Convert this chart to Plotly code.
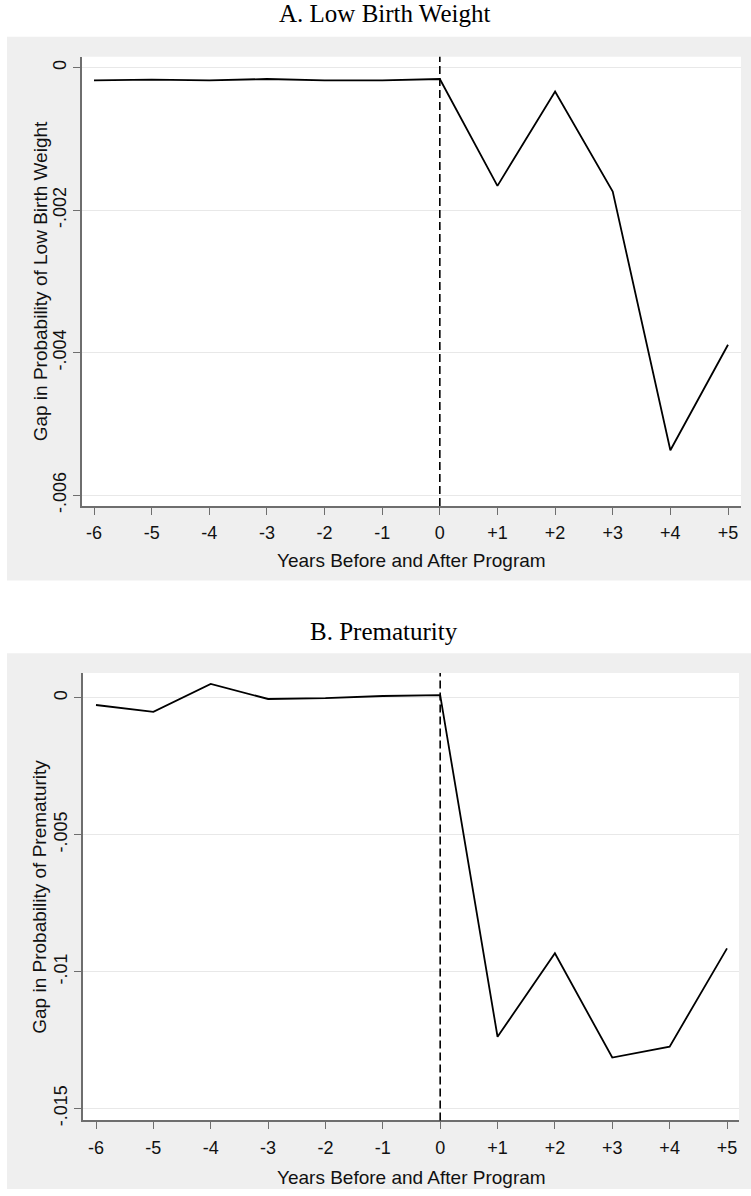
import plotly.graph_objects as go

# ---------------- data ----------------
years = [-6, -5, -4, -3, -2, -1, 0, 1, 2, 3, 4, 5]
year_labels = ["-6", "-5", "-4", "-3", "-2", "-1", "0", "+1", "+2", "+3", "+4", "+5"]

lbw_gap = [-0.00018, -0.00017, -0.00018, -0.00016, -0.00018, -0.00018, -0.00016,
           -0.00166, -0.000335, -0.00174, -0.00537, -0.00389]
prem_gap = [-0.00026, -0.00051, 0.00051, -0.00004, -0.00001, 0.00007, 0.0001,
            -0.01238, -0.00933, -0.01314, -0.01274, -0.00915]

lbw_ticks = [0, -0.002, -0.004, -0.006]
lbw_ticktext = ["0", "-.002", "-.004", "-.006"]
prem_ticks = [0, -0.005, -0.01, -0.015]
prem_ticktext = ["0", "-.005", "-.01", "-.015"]

program_start = 0

title_a = "A. Low Birth Weight"
title_b = "B. Prematurity"
xtitle = "Years Before and After Program"
ytitle_a = "Gap in Probability of Low Birth Weight"
ytitle_b = "Gap in Probability of Prematurity"

# ---------------- layout helpers ----------------
W, H = 751, 1196


def fx(px):
    return px / W


def fy(py):
    return 1 - py / H


GRAY = "#efefef"
AXIS = "#6e6e6e"
GRID = "#e8e8e8"
TXT = "#111111"
SANS = "Liberation Sans, Arial, sans-serif"
SERIF = "Liberation Serif, Times New Roman, serif"

# plot-area pixel boxes (left, top, right, bottom)
boxA = (82, 57, 741, 509)
boxB = (83, 677, 739, 1127)

fig = go.Figure()

fig.add_trace(go.Scatter(x=years, y=lbw_gap, mode="lines",
                         line=dict(color="black", width=1.8),
                         xaxis="x", yaxis="y", showlegend=False, hoverinfo="skip"))
fig.add_trace(go.Scatter(x=years, y=prem_gap, mode="lines",
                         line=dict(color="black", width=1.8),
                         xaxis="x2", yaxis="y2", showlegend=False, hoverinfo="skip"))

tickfont = dict(family=SANS, size=18, color=TXT)

common_x = dict(tickmode="array", tickvals=years, ticktext=year_labels,
                showgrid=False, zeroline=False, showline=True, linecolor=AXIS,
                linewidth=1.5, ticks="outside", ticklen=7, tickwidth=1.3,
                tickcolor=AXIS, tickfont=tickfont, fixedrange=True,
                ticklabelstandoff=3)
common_y = dict(tickmode="array", showgrid=True, gridcolor=GRID, gridwidth=1.3,
                zeroline=False, showline=True, linecolor=AXIS, linewidth=1.5,
                ticks="outside", ticklen=7, tickwidth=1.3, tickcolor=AXIS,
                tickfont=tickfont, tickangle=-90, fixedrange=True)

fig.update_layout(
    width=W, height=H, autosize=False,
    margin=dict(l=0, r=0, t=0, b=0, pad=0),
    paper_bgcolor="white", plot_bgcolor="white",
    xaxis=dict(domain=[fx(boxA[0]), fx(boxA[2])], anchor="y",
               range=[-6 - 12 / 57.64, 5 + 13 / 57.64], **common_x),
    yaxis=dict(domain=[fy(boxA[3]), fy(boxA[1])], anchor="x",
               range=[-0.0061535, 0.0001535], tickvals=lbw_ticks,
               ticktext=lbw_ticktext, **common_y),
    xaxis2=dict(domain=[fx(boxB[0]), fx(boxB[2])], anchor="y2",
                range=[-6 - 13 / 57.36, 5 + 12 / 57.36], **common_x),
    yaxis2=dict(domain=[fy(boxB[3]), fy(boxB[1])], anchor="x2",
                range=[-0.015436, 0.000908], tickvals=prem_ticks,
                ticktext=prem_ticktext, **common_y),
)

shapes = []
# gray graph regions
shapes.append(dict(type="rect", xref="paper", yref="paper", layer="below",
                   x0=fx(7), x1=1, y0=fy(584), y1=fy(37),
                   fillcolor=GRAY, line=dict(width=0)))
shapes.append(dict(type="rect", xref="paper", yref="paper", layer="below",
                   x0=fx(7), x1=1, y0=0, y1=fy(657),
                   fillcolor=GRAY, line=dict(width=0)))
# white plot regions
for b in (boxA, boxB):
    shapes.append(dict(type="rect", xref="paper", yref="paper", layer="below",
                       x0=fx(b[0]), x1=fx(b[2]), y0=fy(b[3]), y1=fy(b[1]),
                       fillcolor="white", line=dict(width=0)))
# dashed reference lines at program start
for xr, yr in (("x", "y domain"), ("x2", "y2 domain")):
    shapes.append(dict(type="line", xref=xr, yref=yr, x0=program_start,
                       x1=program_start, y0=0, y1=1, layer="above",
                       line=dict(color="black", width=1.6, dash="8px,4px")))
fig.update_layout(shapes=shapes)

ann = []
ann.append(dict(text=title_a, xref="paper", yref="paper", x=fx(384), y=fy(14),
                xanchor="center", yanchor="middle", showarrow=False,
                font=dict(family=SERIF, size=25, color="black")))
ann.append(dict(text=title_b, xref="paper", yref="paper", x=fx(384), y=fy(635),
                xanchor="center", yanchor="middle", showarrow=False,
                font=dict(family=SERIF, size=25, color="black")))
for yc in (564, 1184):
    ann.append(dict(text=xtitle, xref="paper", yref="paper", x=fx(411), y=fy(yc),
                    xanchor="center", yanchor="middle", showarrow=False,
                    font=dict(family=SANS, size=19, color=TXT)))
ann.append(dict(text=ytitle_a, xref="paper", yref="paper", x=fx(40),
                y=fy((boxA[1] + boxA[3]) / 2), xanchor="center", yanchor="middle",
                textangle=-90, showarrow=False,
                font=dict(family=SANS, size=19, color=TXT)))
ann.append(dict(text=ytitle_b, xref="paper", yref="paper", x=fx(40),
                y=fy((boxB[1] + boxB[3]) / 2), xanchor="center", yanchor="middle",
                textangle=-90, showarrow=False,
                font=dict(family=SANS, size=19, color=TXT)))
fig.update_layout(annotations=ann)

fig.write_html(
    "out.html",
    config={"displayModeBar": False},
    post_script="document.body.style.margin='0';document.body.style.overflow='hidden';",
)
